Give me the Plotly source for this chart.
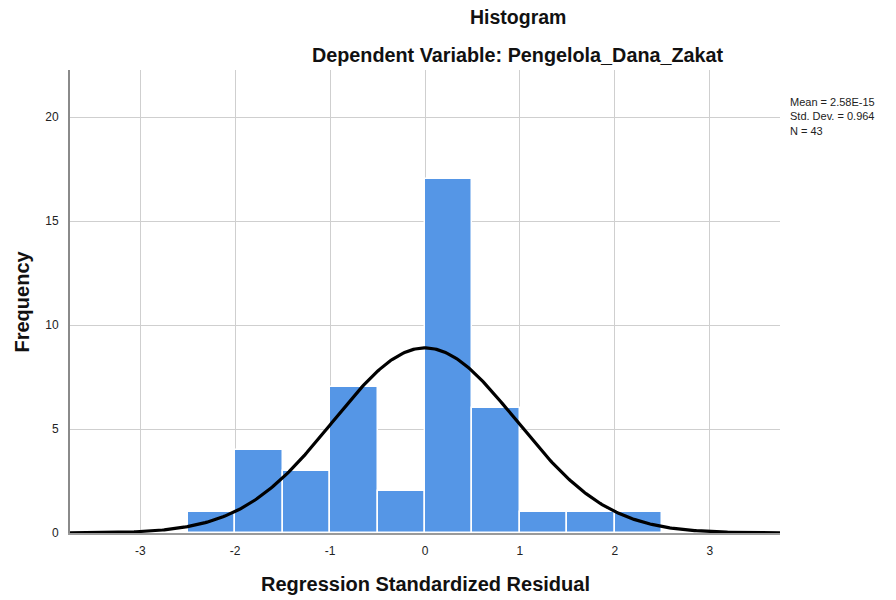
import numpy as np
import plotly.graph_objects as go

# Histogram bins (left edges) and counts
bin_left = [-2.5, -2.0, -1.5, -1.0, -0.5, 0.0, 0.5, 1.0, 1.5, 2.0]
counts = [1, 4, 3, 7, 2, 17, 6, 1, 1, 1]
bin_width = 0.5

# Summary statistics shown in the chart
mean_val = 2.58e-15
std_dev = 0.964
n_obs = 43

x_ticks = [-3, -2, -1, 0, 1, 2, 3]
y_ticks = [0, 5, 10, 15, 20]

centers = [b + bin_width / 2 for b in bin_left]

# Normal curve overlay implied by mean / std dev / N
xc = np.linspace(-3.74, 3.74, 400)
yc = n_obs * bin_width / (std_dev * np.sqrt(2 * np.pi)) * np.exp(-0.5 * ((xc - mean_val) / std_dev) ** 2)

fig = go.Figure()
fig.add_trace(go.Bar(
    x=centers, y=counts, width=[bin_width] * len(counts),
    marker=dict(color="#5596E6", line=dict(color="white", width=1.5)),
    hoverinfo="x+y", showlegend=False))
fig.add_trace(go.Scatter(
    x=xc, y=yc, mode="lines", line=dict(color="black", width=3.2),
    showlegend=False, hoverinfo="skip"))

font_family = "Liberation Sans, Arial, sans-serif"
fig.update_layout(
    width=896, height=600,
    margin=dict(l=70, r=116, t=70, b=67, autoexpand=False),
    paper_bgcolor="white", plot_bgcolor="white",
    font=dict(family=font_family, color="#222"),
    bargap=0,
    xaxis=dict(range=[-3.74, 3.74], tickvals=x_ticks, ticktext=[str(v) for v in x_ticks],
               showgrid=True, gridcolor="#cfcfcf", gridwidth=1, zeroline=False,
               showline=True, linecolor="#9a9a9a", linewidth=1.5,
               ticks="", tickfont=dict(size=12, color="#222"), ticklabelstandoff=6,
               automargin=False),
    yaxis=dict(range=[0, 22.26], tickvals=y_ticks, ticktext=[str(v) for v in y_ticks],
               showgrid=True, gridcolor="#cfcfcf", gridwidth=1, zeroline=False,
               showline=True, linecolor="#8a8a8a", linewidth=2,
               ticks="", tickfont=dict(size=12, color="#222"), ticklabelstandoff=7,
               automargin=False),
)

fig.add_annotation(text="<b>Histogram</b>", x=0.631, y=1, xref="paper", yref="paper",
                   yanchor="middle", yshift=70 - 17,
                   showarrow=False, font=dict(size=19.5, color="#111"))
fig.add_annotation(text="<b>Dependent Variable: Pengelola_Dana_Zakat</b>", x=0.631, y=1,
                   xref="paper", yref="paper", yanchor="middle", yshift=70 - 55,
                   showarrow=False, font=dict(size=19.8, color="#111"))
fig.add_annotation(text="<b>Regression Standardized Residual</b>", x=0.5, y=0,
                   xref="paper", yref="paper", yanchor="middle", yshift=-(584 - 533),
                   showarrow=False, font=dict(size=20, color="#111"))
fig.add_annotation(text="<b>Frequency</b>", x=0, y=0.5, xref="paper", yref="paper",
                   xanchor="center", yanchor="middle", xshift=-(70 - 21), textangle=-90,
                   showarrow=False, font=dict(size=20, color="#111"))
fig.add_annotation(
    text=f"Mean = {mean_val:.2E}<br>Std. Dev. = {std_dev}<br>N = {n_obs}",
    x=1.0, y=1.0, xref="paper", yref="paper", xanchor="left", yanchor="top",
    align="left", showarrow=False, font=dict(size=11, color="#222"),
    xshift=8, yshift=-24)

fig.write_html("out.html", config={"displayModeBar": False},
               post_script="document.body.style.margin='0';document.body.style.overflow='hidden';")
